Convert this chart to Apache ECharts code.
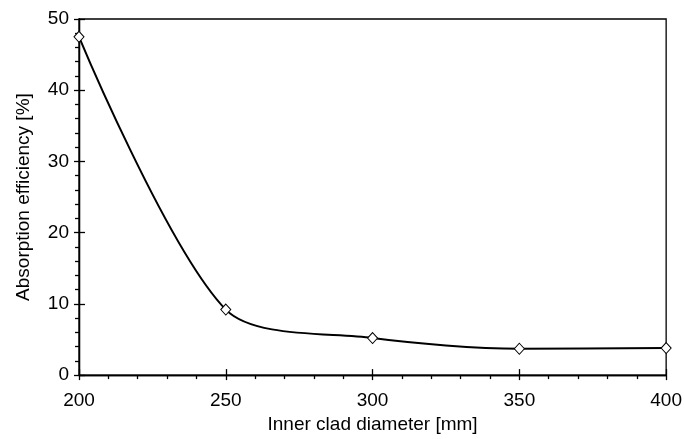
<!DOCTYPE html>
<html>
<head>
<meta charset="utf-8">
<script src="https://cdn.jsdelivr.net/npm/echarts@6/dist/echarts.min.js"></script>
<style>
html,body{margin:0;padding:0;background:#fff;}
#chart{width:685px;height:439px;}
</style>
</head>
<body>
<div id="chart"></div>
<script>
const diameters = [200, 250, 300, 350, 400];
const efficiency = [47.5, 9.2, 5.2, 3.7, 3.8];
const xTitle = 'Inner clad diameter [mm]';
const yTitle = 'Absorption efficiency [%]';

const font = 'Liberation Sans, Arial, sans-serif';
const FS = 19;
const chart = echarts.init(document.getElementById('chart'), null, {renderer: 'canvas'});
const baseX = {
  type: 'value', min: 200, max: 400, interval: 50,
  position: 'bottom',
  axisLine: {onZero: false, lineStyle: {color: '#000', width: 1.3}},
  splitLine: {show: false}
};
const baseY = {
  type: 'value', min: 0, max: 50, interval: 10,
  position: 'left',
  axisLine: {onZero: false, lineStyle: {color: '#000', width: 1.3}},
  splitLine: {show: false}
};
chart.setOption({
  animation: false,
  grid: {left: 79, right: 14, top: 19, bottom: 63, show: true, borderColor: '#000', borderWidth: 1.3, backgroundColor: 'transparent'},
  xAxis: [
    Object.assign({}, baseX, {
      name: xTitle, nameLocation: 'middle', nameGap: 34,
      nameTextStyle: {fontFamily: font, fontSize: FS, color: '#000'},
      axisTick: {show: true, inside: false, length: 5, lineStyle: {color: '#000', width: 1.3}},
      minorTick: {show: true, splitNumber: 5, length: 4, lineStyle: {color: '#000', width: 1.3}},
      axisLabel: {fontFamily: font, fontSize: FS, color: '#000', margin: 16}
    }),
    Object.assign({}, baseX, {
      axisTick: {show: true, inside: true, length: 6, lineStyle: {color: '#000', width: 1.3}},
      axisLabel: {show: false}
    })
  ],
  yAxis: [
    Object.assign({}, baseY, {
      name: yTitle, nameLocation: 'middle', nameGap: 46,
      nameTextStyle: {fontFamily: font, fontSize: FS, color: '#000'},
      axisTick: {show: true, inside: false, length: 5, lineStyle: {color: '#000', width: 1.3}},
      minorTick: {show: true, splitNumber: 5, length: 4, lineStyle: {color: '#000', width: 1.3}},
      axisLabel: {fontFamily: font, fontSize: FS, color: '#000', margin: 10}
    }),
    Object.assign({}, baseY, {
      axisTick: {show: true, inside: true, length: 6, lineStyle: {color: '#000', width: 1.3}},
      axisLabel: {show: false}
    })
  ],
  series: [{
    type: 'line',
    xAxisIndex: 0, yAxisIndex: 0,
    data: diameters.map((d, i) => [d, efficiency[i]]),
    smooth: 0.29,
    symbol: 'diamond',
    symbolSize: [10, 11],
    lineStyle: {color: '#000', width: 2},
    itemStyle: {color: '#fff', borderColor: '#000', borderWidth: 1}
  }]
});
</script>
</body>
</html>
